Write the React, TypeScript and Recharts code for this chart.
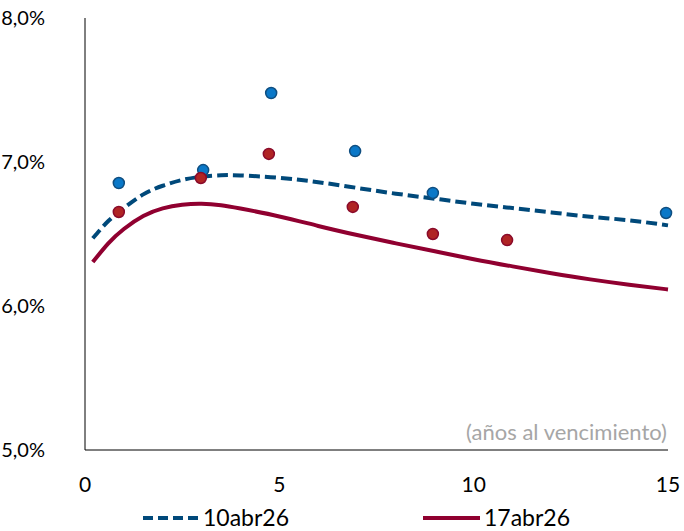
import { ComposedChart, Line, Scatter, XAxis, YAxis, Legend } from "recharts";

const curveX = [0.2, 0.6, 1, 1.5, 2, 2.5, 3, 3.5, 4, 5, 6, 7, 8, 9, 10, 11, 12, 13, 14, 15];
const curve10abr = [6.47, 6.59, 6.68, 6.775, 6.835, 6.875, 6.898, 6.908, 6.907, 6.89, 6.86, 6.82, 6.78, 6.745, 6.71, 6.68, 6.65, 6.62, 6.595, 6.56];
const curve17abr = [6.305, 6.435, 6.535, 6.625, 6.678, 6.703, 6.71, 6.7, 6.677, 6.622, 6.556, 6.493, 6.435, 6.38, 6.325, 6.275, 6.228, 6.185, 6.148, 6.115];

const bondsX10 = [0.87, 3.04, 4.79, 6.95, 8.95, 14.95];
const bonds10abr = [6.854, 6.944, 7.479, 7.076, 6.785, 6.646];
const bondsX17 = [0.87, 2.98, 4.73, 6.89, 8.95, 10.86];
const bonds17abr = [6.653, 6.889, 7.056, 6.688, 6.5, 6.458];

const yTicks = [5, 6, 7, 8];
const xTicks = [0, 5, 10, 15];

const FONT = "Lato, 'Open Sans', sans-serif";

const line10 = curveX.map((x, i) => ({ x, y: curve10abr[i] }));
const line17 = curveX.map((x, i) => ({ x, y: curve17abr[i] }));
const pts10 = bondsX10.map((x, i) => ({ x, y: bonds10abr[i] }));
const pts17 = bondsX17.map((x, i) => ({ x, y: bonds17abr[i] }));

const dot = (fill: string, stroke: string) => (props: any) => (
  <circle cx={props.cx} cy={props.cy} r={5.5} fill={fill} stroke={stroke} strokeWidth={1.5} />
);

function LegendBox() {
  return (
    <svg width={684} height={26} style={{ display: "block" }}>
      <line x1={143} x2={200} y1={14} y2={14} stroke="#00497a" strokeWidth={4} strokeDasharray="10 5" />
      <line x1={423} x2={480} y1={14} y2={14} stroke="#900030" strokeWidth={4} />
      <text x={203} y={22} fontFamily={FONT} fontSize={23} fill="#000">10abr26</text>
      <text x={484} y={22} fontFamily={FONT} fontSize={23} fill="#000">17abr26</text>
    </svg>
  );
}

export default function App() {
  return (
    <div style={{ position: "fixed", left: 0, top: 0, background: "#fff" }}>
      <ComposedChart width={684} height={531} margin={{ top: 18, right: 16, bottom: 1, left: 25 }}>
        <XAxis
          type="number"
          dataKey="x"
          domain={[0, 15]}
          ticks={xTicks}
          tickLine={false}
          tickSize={0}
          tickMargin={27}
          height={54}
          stroke="#000"
          tick={{ fill: "#000", fontSize: 21, fontFamily: FONT }}
          allowDuplicatedCategory={false}
        />
        <YAxis
          type="number"
          dataKey="y"
          domain={[5, 8]}
          ticks={yTicks}
          tickLine={false}
          tickSize={0}
          tickMargin={40}
          width={60}
          stroke="#000"
          tick={{ fill: "#000", fontSize: 20, fontFamily: FONT }}
          tickFormatter={(v: number) => v.toFixed(1).replace(".", ",") + "%"}
        />
        <Legend
          verticalAlign="bottom"
          wrapperStyle={{ left: 0, width: 684 }}
          content={() => <LegendBox />}
        />
        <Line
          data={line10}
          dataKey="y"
          type="natural"
          stroke="#00497a"
          strokeWidth={4}
          strokeDasharray="11 5"
          dot={false}
          isAnimationActive={false}
        />
        <Line
          data={line17}
          dataKey="y"
          type="natural"
          stroke="#900030"
          strokeWidth={4}
          dot={false}
          isAnimationActive={false}
        />
        <Scatter data={pts10} dataKey="y" shape={dot("#0a78c8", "#0f4e80")} isAnimationActive={false} />
        <Scatter data={pts17} dataKey="y" shape={dot("#b02424", "#8a0a2a")} isAnimationActive={false} />
        <text x={667} y={440} textAnchor="end" fill="#a6a6a6" fontSize={22} fontFamily={FONT}>
          (años al vencimiento)
        </text>
      </ComposedChart>
    </div>
  );
}
